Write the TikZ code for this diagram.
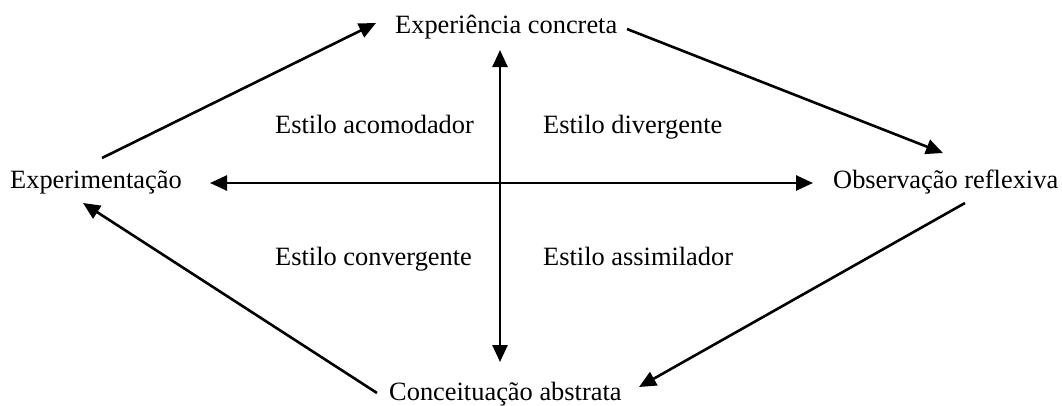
\documentclass[tikz,border=0pt]{standalone}
\usepackage{fontspec}
\setmainfont{Liberation Serif}
\usetikzlibrary{arrows.meta,calc}
\begin{document}
\begin{tikzpicture}[x=1pt,y=-1pt,
  lbl/.style={anchor=base west,inner sep=0pt,font=\fontsize{26.4}{30}\selectfont},
  conn/.style={line width=2.6pt,-{Triangle[length=17pt,width=15pt]}},
  biconn/.style={line width=2.6pt,{Triangle[length=17pt,width=15pt]}-{Triangle[length=17pt,width=15pt]}}]
\useasboundingbox (0,0) rectangle (1062,405);
\node[lbl] (ec) at (395,33) {Experiência concreta};
\node[lbl] (ex) at (10,188) {Experimentação};
\node[lbl] (or) at (833,188) {Observação reflexiva};
\node[lbl] (ca) at (389,400) {Conceituação abstrata};
\node[lbl] (acom) at (275,133) {Estilo acomodador};
\node[lbl] (div) at (543,133) {Estilo divergente};
\node[lbl] (conv) at (275,265) {Estilo convergente};
\node[lbl] (assim) at (543,265) {Estilo assimilador};
% cycle
\draw[conn] ($(ex.base west)+(92,-30)$) -- ($(ec.base west)+(-19,-10)$);
\draw[conn] ($(ec.base west)+(232,-4)$) -- ($(or.base west)+(110,-35)$);
\draw[conn] ($(or.base west)+(132,15)$) -- ($(ca.base west)+(250,-13)$);
\draw[conn] ($(ca.base west)+(-12,-7)$) -- ($(ex.base west)+(73,15)$);
% axes
\draw[biconn] ($(ec.base west)+(105,17)$) -- ($(ca.base west)+(111,-38)$);
\draw[biconn] ($(ex.base west)+(200,-5)$) -- ($(or.base west)+(-20,-5)$);
\end{tikzpicture}
\end{document}
